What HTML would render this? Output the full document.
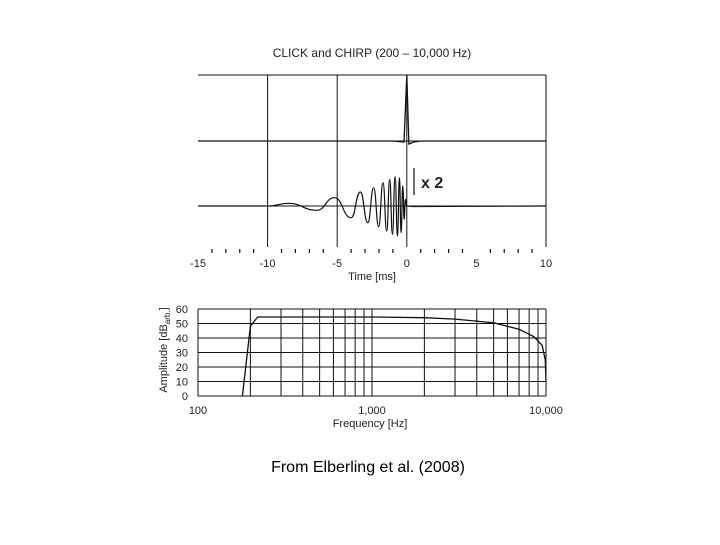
<!DOCTYPE html>
<html><head><meta charset="utf-8"><style>
body{margin:0;background:#fff;width:720px;height:540px;overflow:hidden;font-family:"Liberation Sans",sans-serif}
svg text{font-family:"Liberation Sans",sans-serif;fill:#222}
</style></head><body>
<svg width="720" height="540">
<g id="topG"></g>
<g id="botG"></g>
<text x="368" y="472" text-anchor="middle" font-size="16" style="fill:#000">From Elberling et al. (2008)</text>
</svg>
<script>
const timeTicks=[-15,-10,-5,0,5,10];
const chirpT=[-15,-10,-8.5,-6.47,-5.2,-4.0,-3.34,-2.8,-2.38,-2.02,-1.71,-1.44,-1.23,-1.03,-0.84,-0.67,-0.53,-0.41,-0.29,-0.19,-0.1,0,0.5,10];
const chirpA=[0,0,2.7,-4.3,8.3,-11.7,14,-16.7,18.3,-20.7,23.3,-25,26.7,-28.3,29.3,-30,28.3,-26.7,20,-13.3,6.7,0,-0.5,0];
const clickT=[-15,-5,-1,-0.2,0,0.15,0.5,1,10];
const clickA=[0,0,0,-1,66,-3,-1,0,0];
const freqTicks=[100,1000,10000];
const freqGrid=[200,300,400,500,600,700,800,900,1000,2000,3000,4000,5000,6000,7000,8000,9000,10000];
const ampTicks=[0,10,20,30,40,50,60];
const specF=[180,200,220,500,1000,2000,3000,5000,7000,8500,9500,9900,10000];
const specA=[0,48,54.5,54.5,54.5,54,53,50.5,46,41,35,25,10];

const NS="http://www.w3.org/2000/svg";
function mk(p,tag,at){const e=document.createElementNS(NS,tag);for(const k in at)e.setAttribute(k,at[k]);p.appendChild(e);return e;}
const topG=document.getElementById('topG'),botG=document.getElementById('botG');
const tx=t=>198+(t+15)*348/25;
let e;
e=mk(topG,'text',{x:372,y:57,'text-anchor':'middle','font-size':12});e.textContent='CLICK and CHIRP (200 \u2013 10,000 Hz)';


[75,141,206].forEach(y=>{e=mk(topG,'line',{x1:198,x2:546,y1:y,y2:y,stroke:'#111','stroke-width':1});

});
[-10,-5,0,10].forEach(t=>{e=mk(topG,'line',{x1:tx(t),x2:tx(t),y1:75,y2:247,stroke:'#111','stroke-width':1});

});
for(let t=-14;t<=9;t++){if(t%5===0)continue;e=mk(topG,'line',{x1:tx(t),x2:tx(t),y1:249,y2:253,stroke:'#111','stroke-width':1.2});

}
timeTicks.forEach(t=>{e=mk(topG,'text',{x:tx(t),y:267,'text-anchor':'middle','font-size':11});e.textContent=t;

});
e=mk(topG,'text',{x:372,y:280,'text-anchor':'middle','font-size':11});e.textContent='Time [ms]';


function smooth(ts,as,base){const pts=ts.map((t,i)=>[tx(t),base-as[i]]);
let d='M'+pts[0][0]+','+pts[0][1];
for(let i=1;i<pts.length;i++){const p=pts[i-1],q=pts[i],m=(p[0]+q[0])/2;d+=` C${m},${p[1]} ${m},${q[1]} ${q[0]},${q[1]}`;}return d;}
e=mk(topG,'path',{d:smooth(chirpT,chirpA,206),fill:'none',stroke:'#111','stroke-width':1.2});


e=mk(topG,'path',{d:'M'+clickT.map((t,i)=>tx(t)+','+(141-clickA[i])).join(' L'),fill:'none',stroke:'#111','stroke-width':1.3});


e=mk(topG,'line',{x1:414,x2:414,y1:168,y2:195,stroke:'#111','stroke-width':1.2});


e=mk(topG,'text',{x:421,y:188,'font-size':16,'font-weight':'bold'});e.textContent='x 2';



const fx=f=>198+Math.log10(f/100)*174;
const ay=a=>396-a*87/60;
ampTicks.forEach(a=>{e=mk(botG,'line',{x1:198,x2:546,y1:ay(a),y2:ay(a),stroke:'#111','stroke-width':1});


e=mk(botG,'text',{x:188,y:ay(a)+4,'text-anchor':'end','font-size':11});e.textContent=a;

});
e=mk(botG,'line',{x1:198,x2:198,y1:ay(60),y2:396,stroke:'#111','stroke-width':1});


freqGrid.forEach(f=>{e=mk(botG,'line',{x1:fx(f),x2:fx(f),y1:ay(60),y2:396,stroke:'#111','stroke-width':1});

});
freqTicks.forEach(f=>{e=mk(botG,'text',{x:fx(f),y:414,'text-anchor':'middle','font-size':11});e.textContent=f.toLocaleString('en-US');

});
e=mk(botG,'text',{x:370,y:427,'text-anchor':'middle','font-size':11});e.textContent='Frequency [Hz]';


e=mk(botG,'text',{x:0,y:0,'text-anchor':'middle','font-size':11,transform:'translate(167,350) rotate(-90)'});


e.appendChild(document.createTextNode('Amplitude [dB'));
let ts=mk(e,'tspan',{'font-size':8,dy:3});ts.textContent='arb.';
let ts2=mk(e,'tspan',{dy:-3});ts2.textContent=']';
e=mk(botG,'path',{d:'M'+specF.map((f,i)=>fx(f)+','+ay(specA[i])).join(' L'),fill:'none',stroke:'#111','stroke-width':1.3});


</script>
</body></html>
